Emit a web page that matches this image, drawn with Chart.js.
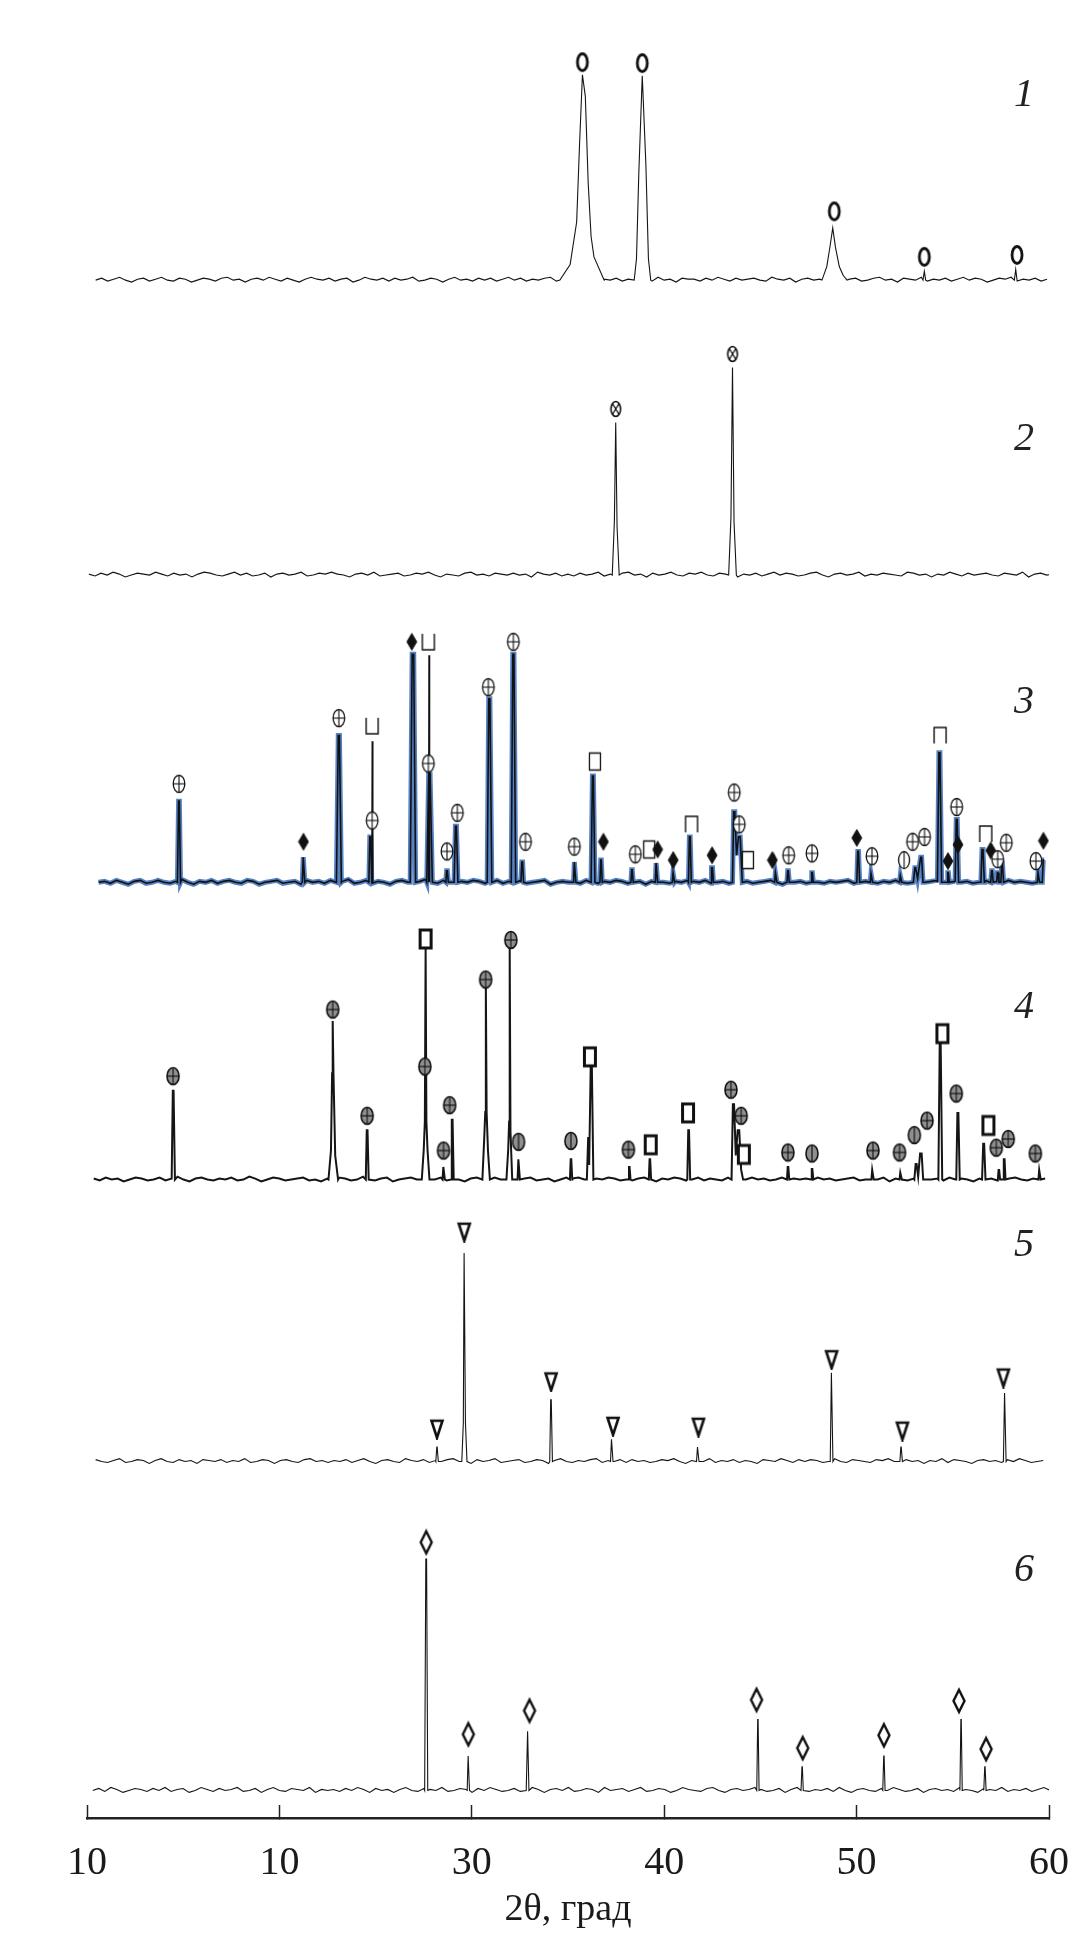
<!DOCTYPE html>
<html lang="ru">
<head>
<meta charset="UTF-8">
<title>Дифрактограммы 1–6</title>
<script src="https://cdn.jsdelivr.net/npm/chart.js"></script>
<style>
  body { margin: 0; background: #fff; }
  #page { position: relative; width: 1070px; height: 1933px; }
  canvas { position: absolute; left: 0; }
  .num {
    position: absolute; left: 1024px;
    transform: translate(-50%, -50%);
    font: italic 40px 'Liberation Serif', serif;
    color: #222; line-height: 1;
  }
</style>
</head>
<body>
<div id="page">
  <canvas id="c1" width="1070" height="320" style="top:0px"></canvas>
  <canvas id="c2" width="1070" height="290" style="top:320px"></canvas>
  <canvas id="c3" width="1070" height="295" style="top:610px"></canvas>
  <canvas id="c4" width="1070" height="295" style="top:905px"></canvas>
  <canvas id="c5" width="1070" height="290" style="top:1200px"></canvas>
  <canvas id="c6" width="1070" height="443" style="top:1490px"></canvas>
  <div class="num" style="top:93px">1</div>
  <div class="num" style="top:437px">2</div>
  <div class="num" style="top:700px">3</div>
  <div class="num" style="top:1005px">4</div>
  <div class="num" style="top:1243px">5</div>
  <div class="num" style="top:1568px">6</div>
</div>

<script>
// подписи оси 2θ (как на исходном рисунке)
const tickText = ['10', '10', '30', '40', '50', '60'];

// диапазон записи фона по 2θ для каждой кривой
const span1 = [10.45, 59.9];
const span2 = [10.1, 60.2];
const span3 = [10.6, 59.75];
const span4 = [10.35, 59.8];
const span5 = [10.45, 59.7];
const span6 = [10.3, 60.05];

// шум фона (отн. ед.)
const noise1 = [
  0,2,-1,1,3,0,-2,1,2,-1, 1,3,0,-1,2,1,-2,0,2,1, -1,2,3,0,1,-2,1,2,0,3, 1,-1,2,0,-2,1,3,1,0,2,
  -1,1,2,-2,0,3,1,0,2,-1, 2,0,1,3,-1,0,2,1,-2,1, 3,0,1,-1,2,0,2,-1,1,3, 0,2,-1,1,0,2,3,-1,1,0,
  2,1,-2,0,3,1,0,2,-1,1, 0,2,1,-1,3,0,1,-2,2,1, 1,-1,2,0,3,1,-1,2,0,1, 2,0,-1,3,1,0,2,-2,1,2,
  0,1,3,-1,2,0,1,2,-1,0, 2,3,0,1,-2,2,1,0,3,-1, 1,0,2,-1,1,3,0,2,1,-2, 0,2,1,3,-1,1,0,2,-1,1
];
const noise2 = [
  1,-1,2,0,3,1,-2,0,2,1, 0,3,1,-1,2,0,1,-2,1,3, 2,0,-1,1,3,0,2,-1,0,2, -2,1,2,0,1,3,-1,0,2,1,
  3,1,0,-2,1,2,0,3,-1,0, 1,2,-1,0,2,1,3,0,-2,1, 0,-1,2,3,0,1,-1,2,1,0, 2,0,1,-2,3,1,0,2,-1,1,
  -1,2,0,1,3,-1,1,0,2,3, 0,1,-2,2,0,1,3,0,-1,2, 1,3,0,-1,2,1,0,-2,1,0, 2,-1,1,3,0,2,1,-1,0,2,
  3,0,-2,1,2,0,1,3,-1,1, 0,2,1,0,-1,3,2,0,1,-2, 1,0,3,1,-1,2,0,1,2,0, -1,2,1,0,3,-2,1,2,0,1
];
const noise3 = [
  0,1,-1,2,0,-2,1,2,-1,0, 2,0,-1,1,3,0,-2,1,0,2, -1,1,2,0,-1,2,1,-2,0,1, 2,-1,0,1,-2,2,0,1,-1,2,
  0,1,3,-1,0,2,-1,1,0,-2, 1,2,0,-1,1,3,0,-1,2,0, -2,1,0,2,1,-1,0,2,-1,1, 0,2,-1,0,1,2,-2,0,1,0,
  1,-1,2,0,-1,1,0,2,1,-1, 0,1,-2,1,2,0,-1,1,0,2, 1,0,2,-1,0,1,-1,0,2,1, -1,0,1,2,0,-2,1,0,1,-1,
  2,0,-1,1,0,1,2,-1,0,1, 0,-1,1,0,2,1,-1,0,1,0, 1,2,0,-1,1,0,1,-1,0,2, 0,1,-1,2,0,1,0,-1,1,0
];
const noise4 = [
  1,-1,2,0,1,-2,0,2,1,-1, 0,2,-1,1,3,0,-2,1,2,0, -1,1,0,2,-1,0,3,1,-2,0, 2,1,-1,0,1,2,-1,0,-2,1,
  0,2,1,-1,0,3,0,-1,1,2, -2,0,1,2,0,-1,1,0,2,-1, 1,0,-2,1,2,0,-1,2,0,1, 0,-1,1,2,-1,0,1,-2,0,2,
  1,2,0,-1,1,0,2,1,-1,0, -1,1,2,0,-2,1,0,2,1,-1, 0,2,-1,1,0,-1,2,0,1,0, 2,0,1,-1,0,2,-2,1,0,1,
  -1,2,0,1,-1,0,1,2,-1,0, 1,0,2,-2,1,0,-1,1,2,0, 0,1,-1,2,0,1,0,-2,1,2, 1,-1,0,1,2,0,-1,1,0,1
];
const noise5 = [
  2,0,-1,1,3,-1,0,2,1,-2, 1,3,0,-1,2,0,1,-2,2,1, 0,2,-1,1,0,3,-1,0,2,1, -2,1,2,0,-1,2,3,0,1,-1,
  1,0,2,-1,1,3,0,-2,1,2, 0,-1,3,1,0,2,-1,1,0,2, 3,0,1,-2,2,0,1,3,-1,0, 1,2,-1,0,2,1,-2,1,3,0,
  -1,1,0,2,3,-1,1,0,2,-1, 2,0,1,-1,0,2,1,3,0,-2, 1,2,0,3,-1,1,0,2,-1,1, 0,-2,2,1,0,3,1,-1,2,0,
  2,1,-1,0,3,0,-1,2,1,0, -1,2,1,3,0,-1,2,0,1,-2, 1,0,3,-1,2,1,0,-2,1,2, 0,1,-1,2,0,3,1,-1,0,1
];
const noise6 = [
  0,2,-1,3,1,-2,0,2,1,-1, 2,0,3,-1,1,2,-2,0,3,1, -1,2,0,1,3,-1,0,2,-2,1, 3,0,-1,2,1,0,3,-2,1,0,
  1,-1,2,0,3,1,-2,2,0,1, -2,1,3,0,-1,2,1,0,3,-1, 0,2,1,-2,2,0,3,1,-1,0, 2,-1,0,3,1,-2,1,2,0,3,
  -1,0,2,1,-2,3,0,1,2,-1, 1,3,-1,0,2,1,-2,0,3,1, 0,-1,2,3,0,-2,1,2,0,1, 3,1,-1,0,2,-2,1,3,0,-1,
  1,0,2,-1,3,0,-2,1,2,0, -1,2,0,3,1,-1,0,2,-2,1, 2,0,1,-1,3,1,0,-2,2,1, 0,3,-1,1,0,2,-1,1,3,0
];

// профили рефлексов: [2θ, интенсивность]
const peaks1 = [
  [[34.58,0],[35.11,16],[35.45,60],[35.6,140],[35.75,212],[35.9,190],[36.05,100],[36.2,45],[36.35,24],[36.88,0]],
  [[38.45,0],[38.56,22],[38.68,110],[38.86,211],[39.05,118],[39.18,22],[39.3,0]],
  [[48.2,0],[48.45,14],[48.62,35],[48.76,54],[48.9,34],[49.1,14],[49.3,5],[49.5,0]],
  [[53.45,0],[53.52,9],[53.59,0]],
  [[58.2,0],[58.27,11],[58.34,0]]
];
const peaks2 = [
  [[37.3,0],[37.41,55],[37.48,158],[37.55,50],[37.66,0]],
  [[43.35,0],[43.47,60],[43.55,215],[43.63,55],[43.75,0]]
];
const peaks3 = [
  [[14.7,0],[14.76,84],[14.8,84],[14.86,0]],
  [[21.19,0],[21.24,26],[21.27,26],[21.32,0]],
  [[22.98,0],[23.06,152],[23.12,152],[23.22,0]],
  [[24.65,0],[24.7,47],[24.75,47],[24.8,0]],
  [[26.8,0],[26.9,236],[26.98,236],[27.08,0]],
  [[27.66,0],[27.76,112],[27.83,112],[27.95,0]],
  [[28.65,0],[28.69,12],[28.73,12],[28.78,0]],
  [[29.08,0],[29.15,58],[29.2,58],[29.28,0]],
  [[30.8,0],[30.88,190],[30.94,190],[31.04,0]],
  [[32.05,0],[32.13,236],[32.19,236],[32.28,0]],
  [[32.55,0],[32.6,21],[32.64,21],[32.69,0]],
  [[35.29,0],[35.33,21],[35.36,21],[35.41,0]],
  [[36.2,0],[36.27,110],[36.32,110],[36.4,0]],
  [[36.66,0],[36.7,23],[36.73,23],[36.78,0]],
  [[38.27,0],[38.31,13],[38.34,13],[38.39,0]],
  [[39.54,0],[39.58,20],[39.61,20],[39.66,0]],
  [[40.42,0],[40.46,10],[40.49,10],[40.54,0]],
  [[41.26,0],[41.31,47],[41.35,47],[41.41,0]],
  [[42.44,0],[42.48,15],[42.51,15],[42.56,0]],
  [[43.55,0],[43.61,73],[43.67,73],[43.76,28],[43.86,47],[43.95,47],[44.06,0]],
  [[45.74,0],[45.78,10],[45.81,10],[45.86,0]],
  [[46.38,0],[46.42,12],[46.45,12],[46.5,0]],
  [[47.63,0],[47.67,10],[47.7,10],[47.75,0]],
  [[50.01,0],[50.06,32],[50.1,32],[50.16,0]],
  [[50.71,0],[50.75,9],[50.78,9],[50.83,0]],
  [[52.23,0],[52.27,7],[52.3,7],[52.35,0]],
  [[52.98,0],[53.03,15],[53.07,15],[53.17,4],[53.33,26],[53.38,26],[53.45,0]],
  [[54.2,0],[54.28,134],[54.33,134],[54.42,0]],
  [[54.7,0],[54.74,10],[54.77,10],[54.82,0]],
  [[55.12,0],[55.18,65],[55.23,65],[55.3,0]],
  [[56.46,0],[56.52,34],[56.57,34],[56.64,0]],
  [[56.98,0],[57.02,12],[57.05,12],[57.1,0]],
  [[57.28,0],[57.32,10],[57.35,10],[57.4,0]],
  [[57.5,0],[57.54,20],[57.58,20],[57.64,0]],
  [[59.39,0],[59.43,10],[59.46,10],[59.51,0]],
  [[59.65,0],[59.7,23],[59.75,23]]
];
// узкие линии кривой 3, есть только на чёрной записи
const spikes3 = [
  [[24.81,0],[24.83,146],[24.85,0]],
  [[27.76,0],[27.78,235],[27.8,0]]
];
const peaks4 = [
  [[14.4,0],[14.46,92],[14.5,92],[14.57,0]],
  [[22.55,0],[22.68,30],[22.74,110],[22.77,164],[22.81,110],[22.9,25],[23.05,0]],
  [[24.49,0],[24.54,51],[24.58,51],[24.64,0]],
  [[27.4,0],[27.5,30],[27.56,60],[27.6,239],[27.64,60],[27.7,30],[27.8,0]],
  [[28.48,0],[28.52,13],[28.55,13],[28.6,0]],
  [[28.92,0],[28.96,62],[29.0,62],[29.06,0]],
  [[30.55,0],[30.64,40],[30.7,70],[30.73,201],[30.77,70],[30.84,30],[30.94,0]],
  [[31.8,0],[31.89,30],[31.94,60],[31.97,241],[32.01,50],[32.1,0]],
  [[32.38,0],[32.42,21],[32.45,21],[32.5,0]],
  [[35.1,0],[35.14,21],[35.17,21],[35.22,0]],
  [[35.98,0],[36.05,44],[36.1,15],[36.18,117],[36.24,117],[36.32,0]],
  [[38.13,0],[38.17,13],[38.2,13],[38.25,0]],
  [[39.2,0],[39.24,21],[39.27,21],[39.32,0]],
  [[41.2,0],[41.25,51],[41.29,51],[41.35,0]],
  [[43.5,0],[43.57,78],[43.63,78],[43.72,25],[43.82,51],[43.9,51],[44.0,10],[44.1,0]],
  [[46.38,0],[46.42,13],[46.45,13],[46.5,0]],
  [[47.63,0],[47.67,11],[47.7,11],[47.75,0]],
  [[50.77,0],[50.81,10],[50.84,10],[50.89,0]],
  [[52.23,0],[52.27,7],[52.3,7],[52.35,0]],
  [[53.0,0],[53.07,16],[53.12,16],[53.2,3],[53.3,27],[53.38,27],[53.46,0]],
  [[54.25,0],[54.32,141],[54.37,141],[54.45,0]],
  [[55.18,0],[55.24,69],[55.29,69],[55.36,0]],
  [[56.52,0],[56.58,37],[56.63,37],[56.7,0]],
  [[57.34,0],[57.38,10],[57.41,10],[57.46,0]],
  [[57.61,0],[57.65,21],[57.69,21],[57.74,0]],
  [[59.45,0],[59.49,10],[59.52,10],[59.57,0]]
];
const peaks5 = [
  [[28.13,0],[28.18,15],[28.2,15],[28.26,0]],
  [[29.48,0],[29.56,40],[29.6,216],[29.63,216],[29.67,40],[29.75,0]],
  [[34.05,0],[34.1,64],[34.13,64],[34.19,0]],
  [[37.21,0],[37.26,23],[37.28,23],[37.34,0]],
  [[41.68,0],[41.73,15],[41.75,15],[41.81,0]],
  [[48.63,0],[48.69,92],[48.71,92],[48.77,0]],
  [[52.25,0],[52.3,15],[52.32,15],[52.38,0]],
  [[57.63,0],[57.69,71],[57.71,71],[57.77,0]]
];
const peaks6 = [
  [[27.55,0],[27.61,235],[27.65,235],[27.71,0]],
  [[29.76,0],[29.81,35],[29.83,35],[29.88,0]],
  [[32.85,0],[32.9,60],[32.92,60],[32.97,0]],
  [[44.81,0],[44.86,72],[44.88,72],[44.93,0]],
  [[47.11,0],[47.16,24],[47.18,24],[47.23,0]],
  [[51.36,0],[51.41,35],[51.43,35],[51.48,0]],
  [[55.37,0],[55.42,72],[55.44,72],[55.49,0]],
  [[56.61,0],[56.66,24],[56.68,24],[56.73,0]]
];

// обозначения фаз: [2θ, высота значка, тип]
const marks1 = [[35.75,225,'o'],[38.86,224,'o'],[48.84,71,'o'],[53.52,24,'o'],[58.34,26,'o']];
const marks2 = [[37.48,172,'ox'],[43.55,229,'ox']];
const marks3 = [
  [14.78,102,'op'],[21.25,42,'dia'],[23.09,170,'op'],[24.82,64,'op'],[24.82,162,'cup'],
  [26.88,249,'dia'],[27.74,249,'cup'],[27.74,123,'op'],[28.71,32,'op'],[29.25,72,'op'],
  [30.86,202,'op'],[32.16,249,'op'],[32.79,42,'op'],[35.33,37,'op'],[36.4,125,'rect'],
  [36.84,42,'dia'],[38.5,29,'op'],[39.22,34,'rect'],[39.66,34,'dia'],[40.47,23,'dia'],
  [41.42,60,'cap'],[42.49,28,'dia'],[43.64,93,'op'],[43.9,60,'op'],[44.35,23,'rect'],
  [45.62,23,'dia'],[46.47,28,'op'],[47.68,30,'op'],[50.01,46,'dia'],[50.8,27,'op'],
  [52.47,23,'ov'],[52.91,42,'op'],[53.53,47,'op'],[54.34,152,'cap'],[54.75,22,'dia'],
  [55.2,78,'op'],[55.27,39,'dia'],[56.71,50,'cap'],[56.97,33,'dia'],[57.33,24,'op'],
  [57.78,41,'op'],[59.32,22,'op'],[59.71,43,'dia']
];
const marks4 = [
  [14.47,107,'gp'],[22.77,176,'gp'],[24.56,66,'gp'],[27.6,249,'brect'],[27.56,117,'gp'],
  [28.53,30,'gp'],[28.85,77,'gp'],[30.72,207,'gp'],[32.03,248,'gp'],[32.43,39,'gv'],
  [35.15,40,'gv'],[36.14,127,'brect'],[38.14,31,'gp'],[39.3,36,'brect'],[41.24,69,'brect'],
  [43.47,93,'gp'],[44.0,66,'gp'],[44.14,26,'brect'],[46.43,28,'gp'],[47.68,27,'gv'],
  [50.85,30,'gp'],[52.23,28,'gp'],[53.0,46,'gv'],[53.66,61,'gp'],[54.46,151,'brect'],
  [55.18,89,'gp'],[56.85,56,'brect'],[57.26,33,'gp'],[57.88,42,'gp'],[59.29,27,'gp']
];
const marks5 = [[28.19,34,'tri'],[29.61,238,'tri'],[34.12,83,'tri'],[37.34,37,'tri'],[41.78,36,'tri'],
  [48.7,106,'tri'],[52.38,32,'tri'],[57.63,87,'tri']];
const marks6 = [[27.63,252,'odia'],[29.82,57,'odia'],[33.0,81,'odia'],[44.8,92,'odia'],[47.2,43,'odia'],
  [51.42,56,'odia'],[55.32,91,'odia'],[56.73,42,'odia']];

// --- значки ---
function icon(w, h, paint) {
  const c = document.createElement('canvas');
  c.width = w; c.height = h;
  const g = c.getContext('2d');
  g.translate(w / 2, h / 2);
  g.strokeStyle = '#111';
  paint(g);
  return c;
}
function oval(g, rx, ry, fill, lw) {
  g.beginPath();
  g.ellipse(0, 0, rx, ry, 0, 0, Math.PI * 2);
  g.fillStyle = fill; g.fill();
  g.lineWidth = lw; g.stroke();
}
function seg(g, x1, y1, x2, y2, lw) {
  g.beginPath(); g.moveTo(x1, y1); g.lineTo(x2, y2);
  g.lineWidth = lw; g.stroke();
}
function poly(g, pts, fill, lw, closed) {
  g.beginPath();
  pts.forEach(([x, y], i) => i ? g.lineTo(x, y) : g.moveTo(x, y));
  if (closed) g.closePath();
  if (fill) { g.fillStyle = fill; g.fill(); }
  if (lw) { g.lineWidth = lw; g.stroke(); }
}
const icons = {
  o: icon(16, 24, g => oval(g, 5, 8.5, '#fff', 2.8)),
  ox: icon(14, 20, g => { oval(g, 4.8, 7.5, '#fff', 1.6); seg(g, -3, -5, 3, 5, 1.3); seg(g, 3, -5, -3, 5, 1.3); }),
  op: icon(16, 22, g => { oval(g, 5.8, 8.5, '#fff', 1.3); seg(g, 0, -8.5, 0, 8.5, 1.1); seg(g, -5.8, 0, 5.8, 0, 1.1); }),
  ov: icon(16, 22, g => { oval(g, 5.5, 8.5, '#fff', 1.3); seg(g, 0, -8.5, 0, 8.5, 1.1); }),
  gp: icon(16, 22, g => { oval(g, 6, 8.5, '#8f8f8f', 1.6); seg(g, 0, -8.5, 0, 8.5, 1.1); seg(g, -6, 0, 6, 0, 1.2); }),
  gv: icon(16, 22, g => { oval(g, 6, 8.5, '#8f8f8f', 1.6); seg(g, 0, -8.5, 0, 8.5, 1.2); }),
  dia: icon(12, 20, g => poly(g, [[0, -8.5], [5, 0], [0, 8.5], [-5, 0]], '#111', 0.8, true)),
  odia: icon(16, 28, g => poly(g, [[0, -11], [5.5, 0], [0, 11], [-5.5, 0]], '#fff', 2.4, true)),
  cup: icon(16, 22, g => poly(g, [[-6, -8], [-6, 8], [6, 8], [6, -8]], null, 1.4, false)),
  cap: icon(16, 22, g => poly(g, [[-6, 8], [-6, -8], [6, -8], [6, 8]], null, 1.4, false)),
  rect: icon(14, 22, g => poly(g, [[-5.5, -8.5], [5.5, -8.5], [5.5, 8.5], [-5.5, 8.5]], '#fff', 1.3, true)),
  brect: icon(16, 24, g => poly(g, [[-5.5, -9], [5.5, -9], [5.5, 9], [-5.5, 9]], '#fff', 3, true)),
  tri: icon(16, 22, g => poly(g, [[-5.5, -8], [5.5, -8], [0, 9]], '#fff', 2.6, true))
};

// --- сборка кривой: фон + рефлексы ---
function buildTrace(span, noise, peaks) {
  const [x0, x1] = span;
  const step = (x1 - x0) / (noise.length - 1);
  let pts = noise.map((v, i) => ({ x: x0 + i * step, y: v }));
  peaks.forEach(pk => {
    const a = pk[0][0], b = pk[pk.length - 1][0];
    pts = pts.filter(p => p.x < a || p.x > b);
  });
  peaks.forEach(pk => pk.forEach(([x, y]) => pts.push({ x, y })));
  return pts.sort((p, q) => p.x - q.x);
}
function lineSet(data, color, width, order) {
  return { data, borderColor: color, borderWidth: width, pointRadius: 0, tension: 0, order };
}
function markSet(marks) {
  return {
    data: marks.map(([x, y, s]) => ({ x, y, s })),
    showLine: false, pointRadius: 4, order: 0,
    pointStyle: c => icons[c.raw.s]
  };
}

const panels = [
  { id: 'c1', span: span1, noise: noise1, peaks: peaks1, marks: marks1, yMin: -36, yMax: 284 },
  { id: 'c2', span: span2, noise: noise2, peaks: peaks2, marks: marks2, yMin: -31, yMax: 259 },
  { id: 'c3', span: span3, noise: noise3, peaks: peaks3, marks: marks3, yMin: -18.3, yMax: 276.7, blue: true },
  { id: 'c4', span: span4, noise: noise4, peaks: peaks4, marks: marks4, yMin: -16, yMax: 279, lw: 2 },
  { id: 'c5', span: span5, noise: noise5, peaks: peaks5, marks: marks5, yMin: -24.3, yMax: 265.7 },
  { id: 'c6', span: span6, noise: noise6, peaks: peaks6, marks: marks6, yMin: -28, yMax: 300, axis: true }
];

panels.forEach(p => {
  const trace = buildTrace(p.span, p.noise, p.peaks);
  const datasets = [markSet(p.marks)];
  if (p.blue) {
    datasets.push(lineSet(trace, 'rgba(56,108,184,0.85)', 5, 3));
    datasets.push(lineSet(trace, '#111', 1.6, 1));
    spikes3.forEach(s => datasets.push(lineSet(s.map(([x, y]) => ({ x, y })), '#111', 1.6, 1)));
  } else {
    datasets.push(lineSet(trace, '#151515', p.lw || 1.1, 1));
  }

  // ticks.padding = 0, иначе Chart.js добавляет его к отступу справа и сжимает ось;
  // положение подписей задаётся высотой строки
  const xScale = p.axis ? {
    type: 'linear', min: 10, max: 60,
    afterFit: s => { s.height = 115; },
    border: { display: true, color: '#222', width: 2.5 },
    grid: { display: true, drawOnChartArea: false, drawTicks: true, tickLength: -13, tickWidth: 1.5, tickColor: '#222' },
    ticks: {
      stepSize: 10, autoSkip: false, maxRotation: 0, padding: 0, color: '#1a1a1a',
      font: { family: 'Liberation Serif', size: 40, lineHeight: 2.9 },
      callback: (v, i) => tickText[i]
    },
    title: {
      display: true, text: '2θ, град', color: '#1a1a1a',
      font: { family: 'Liberation Serif', size: 38 }, padding: { top: 0, bottom: 0 }
    }
  } : { type: 'linear', min: 10, max: 60, display: false };

  new Chart(document.getElementById(p.id), {
    type: 'line',
    data: { datasets },
    options: {
      responsive: false,
      animation: false,
      layout: { padding: { left: 87, right: 21, top: 0, bottom: 0 } },
      scales: { x: xScale, y: { min: p.yMin, max: p.yMax, display: false } },
      plugins: { legend: { display: false }, tooltip: { enabled: false } }
    }
  });
});
</script>
</body>
</html>
